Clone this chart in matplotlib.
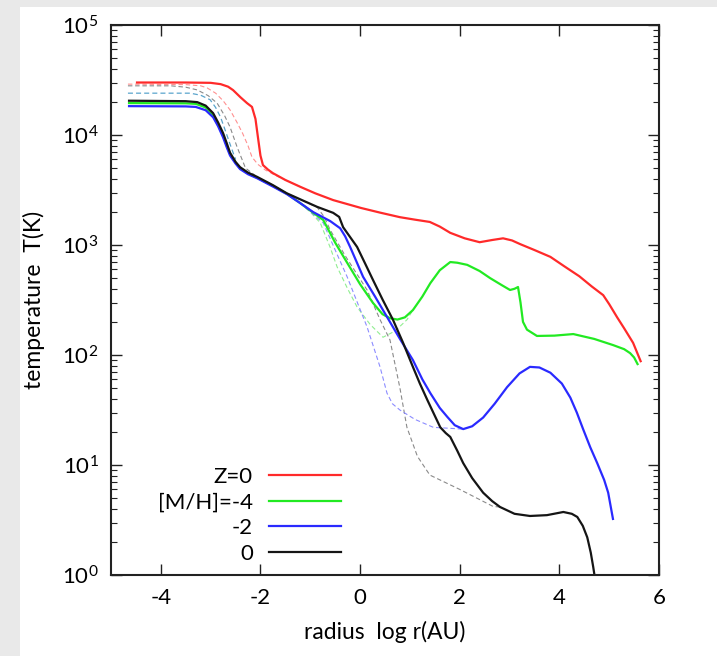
import matplotlib
matplotlib.use("Agg")
import matplotlib.pyplot as plt
from matplotlib.patches import Rectangle
from matplotlib.lines import Line2D
from matplotlib.ticker import LogLocator, NullFormatter

plt.rcParams['font.family'] = ['Lato', 'DejaVu Sans']
plt.rcParams['mathtext.fontset'] = 'custom'
plt.rcParams['mathtext.rm'] = 'Lato'
plt.rcParams['mathtext.it'] = 'Lato'

# ---------------- data: log r (AU) and T (K) ----------------
red_x = [-4.5, -3.5, -3.0, -2.8, -2.65, -2.55, -2.4, -2.27, -2.17, -2.1, -2.05, -2.0, -1.95, -1.85, -1.75,
         -1.5, -1.2, -0.9, -0.54, -0.25, 0.02, 0.4, 0.8, 1.1, 1.4, 1.6, 1.81, 2.1, 2.4, 2.65, 2.87, 3.05,
         3.21, 3.5, 3.82, 4.1, 4.4, 4.65, 4.88, 5.0, 5.16, 5.3, 5.48, 5.64]
red_T = [30000, 30000, 29800, 29000, 27500, 25600, 22000, 19500, 18000, 14000, 9500, 6500, 5330, 4850, 4500,
         3900, 3380, 2950, 2560, 2350, 2170, 1970, 1790, 1700, 1620, 1470, 1290, 1150, 1060, 1110, 1150, 1100,
         1020, 900, 780, 640, 520, 420, 350, 290, 220, 175, 129, 86]

green_x = [-4.66, -3.5, -3.3, -3.1, -2.95, -2.85, -2.75, -2.68, -2.61, -2.5, -2.41, -2.25, -2.07, -1.75, -1.47,
           -1.2, -0.94, -0.74, -0.5, -0.26, 0.0, 0.26, 0.45, 0.6, 0.75, 0.9, 1.06, 1.25, 1.41, 1.6, 1.81, 1.95,
           2.15, 2.4, 2.61, 2.85, 3.01, 3.1, 3.17, 3.22, 3.27, 3.35, 3.55, 3.9, 4.28, 4.7, 5.08, 5.3, 5.42,
           5.5, 5.58]
green_T = [19500, 19400, 19200, 17800, 15000, 12300, 9900, 8100, 6700, 5600, 5000, 4480, 4100, 3450, 2920,
           2400, 1960, 1690, 1050, 690, 440, 297, 235, 216, 210, 220, 256, 340, 450, 590, 700, 690,
           660, 580, 500, 430, 390, 400, 415, 300, 200, 170, 149, 150, 155, 140, 123, 113, 104,
           95, 81]

blue_x = [-4.66, -3.5, -3.3, -3.1, -2.95, -2.85, -2.75, -2.68, -2.61, -2.5, -2.41, -2.25, -2.07, -1.75, -1.47,
          -1.2, -0.94, -0.6, -0.4, -0.3, -0.2, 0.06, 0.3, 0.54, 0.8, 1.06, 1.25, 1.41, 1.6, 1.75, 1.9, 2.07,
          2.25, 2.47, 2.7, 2.95, 3.2, 3.41, 3.6, 3.82, 4.05, 4.22, 4.35, 4.48, 4.62, 4.76, 4.9, 4.98, 5.08]
blue_T = [18300, 18200, 18000, 16800, 14500, 12000, 9500, 7800, 6500, 5500, 4900, 4400, 4050, 3400, 2900,
          2400, 1990, 1650, 1420, 1200, 960, 514, 340, 222, 140, 90, 60, 45, 33, 27.4, 23, 21.2,
          22.5, 27, 36, 51, 68, 78, 77, 69, 55, 41, 30, 21, 14.5, 10.4, 7.3, 5.6, 3.16]

black_x = [-4.66, -3.5, -3.27, -3.1, -2.95, -2.85, -2.75, -2.68, -2.61, -2.5, -2.41, -2.25, -2.07, -1.75, -1.47,
           -1.2, -0.86, -0.54, -0.42, -0.34, -0.2, -0.06, 0.1, 0.26, 0.45, 0.66, 0.86, 1.06, 1.2, 1.35, 1.5,
           1.61, 1.72, 1.81, 1.95, 2.07, 2.25, 2.47, 2.65, 2.81, 3.1, 3.41, 3.75, 4.08, 4.25, 4.36, 4.47, 4.56,
           4.63, 4.68, 4.72]
black_T = [20500, 20300, 19900, 18500, 15800, 13000, 10400, 8500, 6900, 5700, 5100, 4550, 4170, 3500, 2950,
           2600, 2220, 1960, 1800, 1450, 1180, 960, 680, 480, 320, 209, 130, 78, 55, 39, 28,
           22, 19.5, 18, 13.5, 10.4, 7.6, 5.6, 4.7, 4.15, 3.6, 3.44, 3.5, 3.74, 3.6, 3.37, 2.8, 2.2,
           1.6, 1.18, 0.9]

# thin dashed curves
red_d_x = [-4.66, -3.5, -3.2, -3.07, -2.9, -2.75, -2.61, -2.47, -2.36, -2.25, -2.17, -2.05, -1.9, -1.7, -1.5, -1.2]
red_d_T = [29000, 28700, 28000, 26800, 24000, 20500, 16900, 13000, 10400, 8000, 6300, 5400, 4800, 4300, 3900, 3380]

gray_d_x = [-4.66, -3.8, -3.5, -3.27, -3.05, -2.87, -2.72, -2.61, -2.47, -2.3, -2.07, -1.47, -0.86, -0.72,
            -0.6, -0.3, 0.14, 0.4, 0.6, 0.8, 0.94, 1.15, 1.4, 2.0, 2.67, 2.81]
gray_d_T = [28000, 28000, 27200, 25700, 22800, 19500, 15000, 11800, 7800, 5000, 4170, 2950, 2200, 1800,
            1370, 800, 390, 210, 137, 50, 22, 12, 8.1, 6.0, 4.2, 4.15]

init_d_x = [-4.66, -3.41, -3.2, -3.01, -2.9, -2.8, -2.7, -2.6, -2.5]
init_d_T = [24000, 24000, 23000, 20900, 17800, 14500, 10800, 8000, 6000]

blue_d_x = [-1.2, -1.0, -0.74, -0.5, -0.26, 0.14, 0.4, 0.54, 0.65, 0.8, 1.1, 1.47, 2.07]
blue_d_T = [2400, 2000, 1590, 900, 514, 180, 78, 45, 36, 31.6, 26, 22, 21.2]

green_d_x = [-1.2, -1.0, -0.8, -0.6, -0.46, -0.25, -0.06, 0.2, 0.46, 0.7, 0.94, 1.06]
green_d_T = [2400, 2000, 1590, 950, 630, 400, 273, 190, 145, 165, 209, 256]

labels = ["Z=0", "[M/H]=-4", "-2", "0"]
colors = ["#ff2a2a", "#22ea22", "#2a2aff", "#151515"]

x_ticks = [-4, -2, 0, 2, 4, 6]

# ---------------- figure ----------------
fig = plt.figure(figsize=(7.17, 6.56), dpi=100)
fig.patch.set_facecolor("white")
fig.patches.append(Rectangle((0, 0), 20 / 717, 1, transform=fig.transFigure,
                             facecolor="#e9e9e9", edgecolor="none", zorder=-10))
fig.patches.append(Rectangle((0, 1 - 7 / 656), 1, 7 / 656, transform=fig.transFigure,
                             facecolor="#e9e9e9", edgecolor="none", zorder=-10))

ax = fig.add_axes([111 / 717, (656 - 575) / 656, 548 / 717, 550 / 656])

dash = (0, (4, 2.5))
ax.plot(gray_d_x, gray_d_T, color="#8a8a8a", lw=0.8, ls=dash)
ax.plot(red_d_x, red_d_T, color="#ff9090", lw=0.8, ls=dash)
ax.plot(init_d_x, init_d_T, color="#5aa4cc", lw=0.9, ls=dash)
ax.plot(green_d_x, green_d_T, color="#90ee90", lw=0.8, ls=dash)
ax.plot(blue_d_x, blue_d_T, color="#8c8cff", lw=0.8, ls=dash)

solid = [(red_x, red_T), (green_x, green_T), (blue_x, blue_T), (black_x, black_T)]
for (xs, ts), c in zip(solid, colors):
    ax.plot(xs, ts, color=c, lw=1.6, solid_capstyle="butt", solid_joinstyle="round")

ax.set_yscale("log")
ax.set_xlim(-5, 6)
ax.set_ylim(1, 1e5)
ax.set_xticks(x_ticks)
ax.set_xticklabels([str(t) for t in x_ticks])
ax.yaxis.set_major_locator(LogLocator(base=10, numticks=10))
ax.yaxis.set_minor_locator(LogLocator(base=10, subs=range(2, 10), numticks=20))
ax.yaxis.set_minor_formatter(NullFormatter())

ax.tick_params(which="both", direction="in", top=True, right=True, labelsize=16, color="#222222")
ax.tick_params(axis="both", which="major", length=8, width=1.0, pad=9)
ax.tick_params(axis="y", which="minor", length=4, width=0.8)
for s in ax.spines.values():
    s.set_linewidth(1.5)
    s.set_color("#222222")

ax.set_xlabel("radius  log r(AU)", fontsize=16.5, labelpad=10)
ax.set_ylabel("temperature  T(K)", fontsize=16.5, labelpad=12)

handles = [Line2D([], [], color=c, lw=1.6) for c in colors]
ax.legend(handles, labels, loc="lower right", bbox_to_anchor=(0.42, 0.02), frameon=False,
          markerfirst=False, fontsize=16, handlelength=3.25, handletextpad=0.72,
          labelspacing=0.26, borderaxespad=0.0, borderpad=0.0)

fig.savefig("out.png", dpi=100)
